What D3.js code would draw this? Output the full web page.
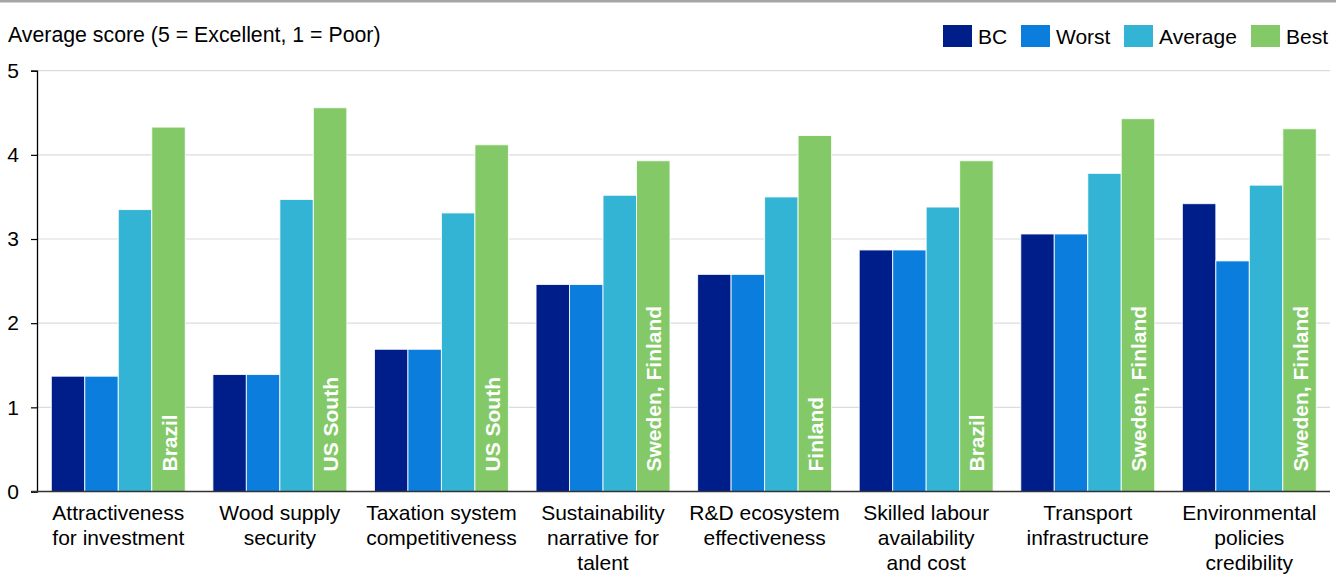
<!DOCTYPE html>
<html>
<head>
<meta charset="utf-8">
<script src="https://cdn.jsdelivr.net/npm/d3@7"></script>
<style>
  html, body { margin: 0; padding: 0; background: #fff; }
  svg { display: block; font-family: "Liberation Sans", Arial, Helvetica, sans-serif; }
</style>
</head>
<body>
<svg id="chart" width="1344" height="575"></svg>
<script>
// Factor categories (multi-line labels)
const categories = [
  ["Attractiveness", "for investment"],
  ["Wood supply", "security"],
  ["Taxation system", "competitiveness"],
  ["Sustainability", "narrative for", "talent"],
  ["R&D ecosystem", "effectiveness"],
  ["Skilled labour", "availability", "and cost"],
  ["Transport", "infrastructure"],
  ["Environmental", "policies", "credibility"]
];
const seriesNames = ["BC", "Worst", "Average", "Best"];
const seriesColors = ["#001e8a", "#0b7ddc", "#34b4d4", "#83c967"];

const bcScores      = [1.37, 1.39, 1.69, 2.46, 2.58, 2.87, 3.06, 3.42];
const worstScores   = [1.37, 1.39, 1.69, 2.46, 2.58, 2.87, 3.06, 2.74];
const averageScores = [3.35, 3.47, 3.31, 3.52, 3.50, 3.38, 3.78, 3.64];
const bestScores    = [4.33, 4.56, 4.12, 3.93, 4.23, 3.93, 4.43, 4.31];
const bestRegions   = ["Brazil", "US South", "US South", "Sweden, Finland", "Finland", "Brazil", "Sweden, Finland", "Sweden, Finland"];

const yTicks = [0, 1, 2, 3, 4, 5];
const yTitle = "Average score (5 = Excellent, 1 = Poor)";

const seriesValues = [bcScores, worstScores, averageScores, bestScores];
const catKeys = categories.map(c => c.join(" "));

const svg = d3.select("#chart");
const FONT = 21;

// top rule
svg.append("rect").attr("x", 0).attr("y", 0).attr("width", 1336).attr("height", 2.5).attr("fill", "#a6a6a6");

const x0 = d3.scaleBand().domain(catKeys).range([37, 1330.6]).paddingInner(0.171).paddingOuter(0.0885);
const x1 = d3.scaleBand().domain(seriesNames).range([0, x0.bandwidth()]);
const y = d3.scaleLinear().domain([0, 5]).range([491.5, 70.7]);

// gridlines
svg.append("g").selectAll("line").data(yTicks.filter(t => t > 0)).join("line")
  .attr("x1", 37).attr("x2", 1330)
  .attr("y1", d => y(d)).attr("y2", d => y(d))
  .attr("stroke", "#dcdcdc").attr("stroke-width", 1.2);

// y axis
const yAxis = svg.append("g").attr("transform", "translate(37,0)")
  .call(d3.axisLeft(y).tickValues(yTicks).tickFormat(d3.format("d")).tickSize(6).tickPadding(12));
yAxis.select(".domain").attr("stroke", "#000").attr("stroke-width", 1.3);
yAxis.selectAll(".tick line").attr("stroke", "#000").attr("stroke-width", 1.2);
yAxis.selectAll(".tick text").attr("font-size", FONT).attr("fill", "#000")
  .attr("font-family", "Liberation Sans, Arial, sans-serif");

// bars
const groups = svg.append("g").selectAll("g").data(catKeys).join("g")
  .attr("transform", d => `translate(${x0(d)},0)`);

groups.selectAll("rect").data((d, i) => seriesNames.map((s, j) => ({ s, j, v: seriesValues[j][i] })))
  .join("rect")
  .attr("x", d => x1(d.s))
  .attr("width", x1.bandwidth())
  .attr("y", d => y(d.v))
  .attr("height", d => y(0) - y(d.v))
  .attr("fill", d => seriesColors[d.j])
  .attr("stroke", "#fff").attr("stroke-opacity", 0.85).attr("stroke-width", 1);

// region labels inside the Best bars
groups.append("text")
  .attr("transform", d => `translate(${x1("Best") + x1.bandwidth() / 2 + 0.5},${y(0) - 20}) rotate(-90)`)
  .attr("dominant-baseline", "central")
  .attr("font-size", FONT).attr("font-weight", "bold").attr("fill", "#fff")
  .text((d, i) => bestRegions[i]);

// x baseline
svg.append("line").attr("x1", 31).attr("x2", 1330).attr("y1", y(0)).attr("y2", y(0))
  .attr("stroke", "#333").attr("stroke-width", 1.5);

// category labels
const catLabels = svg.append("g").selectAll("text").data(categories).join("text")
  .attr("x", (d, i) => x0(catKeys[i]) + x0.bandwidth() / 2)
  .attr("y", 520)
  .attr("text-anchor", "middle")
  .attr("font-size", FONT).attr("fill", "#000");
catLabels.selectAll("tspan").data(d => d).join("tspan")
  .attr("x", function () { return d3.select(this.parentNode).attr("x"); })
  .attr("dy", (d, i) => i === 0 ? 0 : 25)
  .text(d => d);

// y title
svg.append("text").attr("x", 8).attr("y", 42).attr("font-size", 21.3).attr("fill", "#000").text(yTitle);

// legend
const legendX = [943, 1021, 1124, 1251];
const legend = svg.append("g").selectAll("g").data(seriesNames).join("g")
  .attr("transform", (d, i) => `translate(${legendX[i]},25)`);
legend.append("rect").attr("width", 29).attr("height", 22).attr("fill", (d, i) => seriesColors[i]);
legend.append("text").attr("x", 35).attr("y", 19).attr("font-size", FONT).attr("fill", "#000").text(d => d);
</script>
</body>
</html>
